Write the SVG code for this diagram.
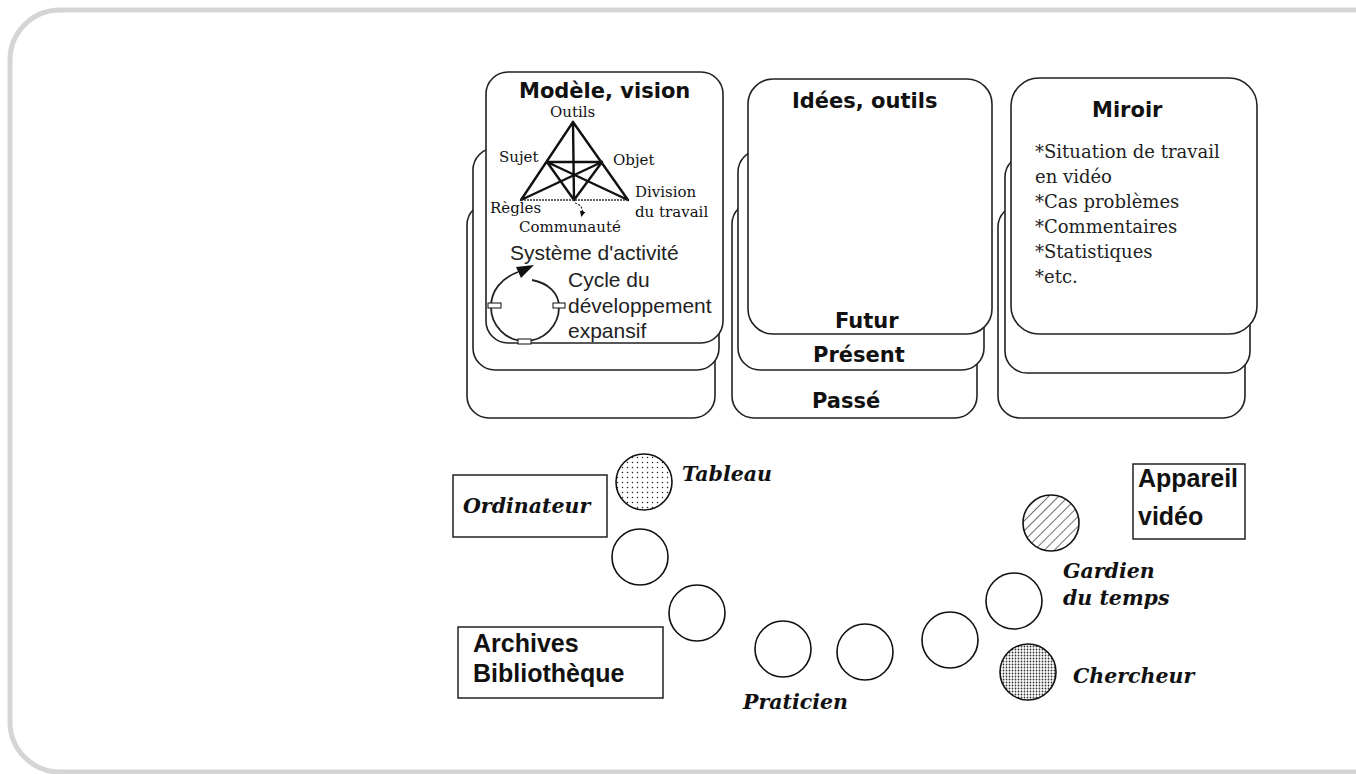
<svg xmlns="http://www.w3.org/2000/svg" width="1356" height="774" viewBox="0 0 1356 774">
<defs>
<style>
.card{fill:#fff;stroke:#222;stroke-width:1.6}
.box{fill:#fff;stroke:#222;stroke-width:1.5}
.circ{stroke:#111;stroke-width:1.6}
.title{font-family:"DejaVu Sans",sans-serif;font-weight:bold;font-size:21px;fill:#111}
.sans{font-family:"Liberation Sans",Arial,sans-serif;font-size:21px;fill:#222}
.sansb{font-family:"Liberation Sans",Arial,sans-serif;font-weight:bold;font-size:25px;fill:#111}
.tri{font-family:"DejaVu Serif",serif;font-size:15px;fill:#111}
.list{font-family:"DejaVu Serif",serif;font-size:18px;fill:#222}
.lab{font-family:"DejaVu Serif",serif;font-style:italic;font-weight:bold;font-size:20.5px;fill:#111}
.tl{stroke:#111;stroke-width:2.4;fill:none;stroke-linecap:round}
</style>
<pattern id="dots" width="5" height="5" patternUnits="userSpaceOnUse">
<rect width="5" height="5" fill="#fff"/>
<circle cx="2.5" cy="2.5" r="0.75" fill="#222"/>
</pattern>
<pattern id="dense" width="3" height="3" patternUnits="userSpaceOnUse">
<rect width="3" height="3" fill="#fff"/>
<circle cx="1.5" cy="1.5" r="0.9" fill="#333"/>
</pattern>
<pattern id="hatch" width="7" height="7" patternUnits="userSpaceOnUse" patternTransform="rotate(45)">
<rect width="7" height="7" fill="#fff"/>
<line x1="0" y1="0" x2="0" y2="7" stroke="#222" stroke-width="1.3"/>
</pattern>
<marker id="ah" markerWidth="6" markerHeight="6" refX="3" refY="3" orient="auto" markerUnits="userSpaceOnUse">
<path d="M0,0 L6,3 L0,6 z" fill="#111"/>
</marker>
</defs>
<rect width="1356" height="774" fill="#fff"/>
<rect id="frame" x="10" y="10" width="1400" height="762" rx="50" fill="none" stroke="#d5d5d5" stroke-width="5"/>

<g id="modele">
<rect class="card" x="467" y="203" width="248" height="215" rx="22"/>
<rect class="card" x="473" y="148" width="246" height="222" rx="22"/>
<rect class="card" x="486" y="72" width="237" height="271" rx="22"/>
<text class="title" x="519" y="98">Modèle, vision</text>
<path class="tl" d="M573 122 L521 200 M573 122 L628 200 M573 122 L574 200 M547 162 L602 162 M547 162 L574 200 M602 162 L574 200 M547 162 L628 200 M602 162 L521 200"/>
<line x1="521" y1="200" x2="628" y2="200" stroke="#333" stroke-width="1.6" stroke-dasharray="2 1"/>
<path d="M575 203 Q584 206 582 214" fill="none" stroke="#222" stroke-width="1.2" stroke-dasharray="2 1.5" marker-end="url(#ah)"/>
<text class="tri" x="550" y="117">Outils</text>
<text class="tri" x="499" y="162">Sujet</text>
<text class="tri" x="613" y="165">Objet</text>
<text class="tri" x="490" y="213">Règles</text>
<text class="tri" x="635" y="197">Division</text>
<text class="tri" x="635" y="217">du travail</text>
<text class="tri" x="519" y="232">Communauté</text>
<text class="sans" x="510" y="260">Système d'activité</text>
<path d="M532 280 C548 283 559 293 559 307 A34 34 0 0 1 525 341 A34 34 0 0 1 491 307 C491 290 502 278 518 272" fill="none" stroke="#222" stroke-width="1.8"/>
<polygon points="534,265 516,267 521,278" fill="#111"/>
<rect x="488" y="303" width="13" height="5" fill="#fff" stroke="#222" stroke-width="1.1"/>
<rect x="553" y="303" width="12" height="5" fill="#fff" stroke="#222" stroke-width="1.1"/>
<rect x="518" y="339" width="13" height="5" fill="#fff" stroke="#222" stroke-width="1.1"/>
<text class="sans" x="568" y="287">Cycle du</text>
<text class="sans" x="568" y="313">développement</text>
<text class="sans" x="568" y="338">expansif</text>
</g>

<g id="idees">
<rect class="card" x="732" y="202" width="245" height="216" rx="22"/>
<rect class="card" x="738" y="150" width="246" height="220" rx="22"/>
<rect class="card" x="748" y="79" width="244" height="255" rx="25"/>
<text class="title" x="792" y="108">Idées, outils</text>
<text class="title" x="835" y="328">Futur</text>
<text class="title" x="813" y="362">Présent</text>
<text class="title" x="812" y="408">Passé</text>
</g>

<g id="miroir">
<rect class="card" x="998" y="205" width="247" height="213" rx="22"/>
<rect class="card" x="1005" y="155" width="245" height="218" rx="22"/>
<rect class="card" x="1011" y="78" width="246" height="256" rx="28"/>
<text class="title" x="1092" y="117">Miroir</text>
<text class="list" x="1035" y="158">*Situation de travail</text>
<text class="list" x="1035" y="183">en vidéo</text>
<text class="list" x="1035" y="208">*Cas problèmes</text>
<text class="list" x="1035" y="233">*Commentaires</text>
<text class="list" x="1035" y="258">*Statistiques</text>
<text class="list" x="1035" y="283">*etc.</text>
</g>

<g id="ordinateur">
<rect class="box" x="453" y="475" width="154" height="62"/>
<text class="lab" x="463" y="513">Ordinateur</text>
</g>
<g id="tableau">
<circle class="circ" cx="644" cy="482" r="28" fill="url(#dots)"/>
<text class="lab" x="682" y="481">Tableau</text>
</g>
<g id="p1"><circle class="circ" cx="640" cy="557" r="28" fill="#fff"/></g>
<g id="p2"><circle class="circ" cx="697" cy="613" r="28" fill="#fff"/></g>
<g id="archives">
<rect class="box" x="458" y="627" width="205" height="71"/>
<text class="sansb" x="473" y="652">Archives</text>
<text class="sansb" x="473" y="682">Bibliothèque</text>
</g>
<g id="praticien">
<circle class="circ" cx="783" cy="649" r="28" fill="#fff"/>
<text class="lab" x="743" y="709">Praticien</text>
</g>
<g id="p3"><circle class="circ" cx="865" cy="652" r="28" fill="#fff"/></g>
<g id="p4"><circle class="circ" cx="950" cy="640" r="28" fill="#fff"/></g>
<g id="gardien">
<circle class="circ" cx="1014" cy="601" r="28" fill="#fff"/>
<text class="lab" x="1063" y="578">Gardien</text>
<text class="lab" x="1063" y="605">du temps</text>
</g>
<g id="video-op"><circle class="circ" cx="1051" cy="523" r="28" fill="url(#hatch)"/></g>
<g id="chercheur">
<circle class="circ" cx="1028" cy="672" r="28" fill="url(#dense)"/>
<text class="lab" x="1073" y="683">Chercheur</text>
</g>
<g id="appareil">
<rect class="box" x="1133" y="464" width="112" height="75"/>
<text class="sansb" x="1138" y="487">Appareil</text>
<text class="sansb" x="1138" y="525">vidéo</text>
</g>
</svg>
